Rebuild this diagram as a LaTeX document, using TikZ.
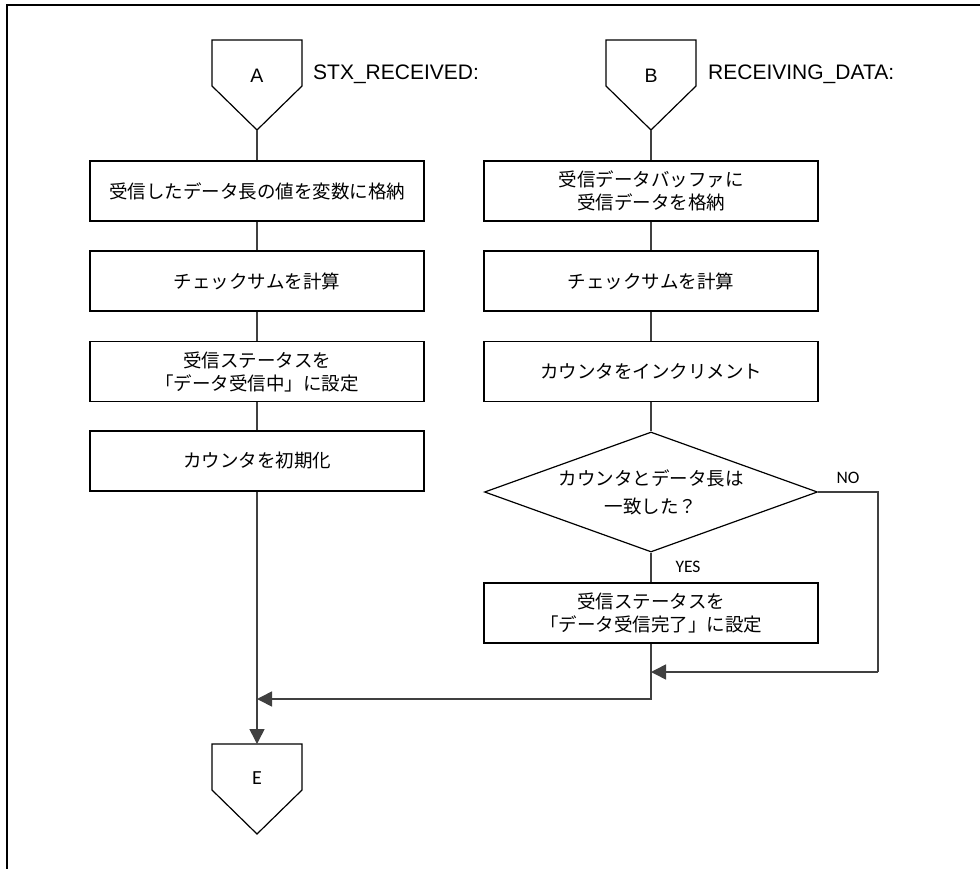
\documentclass[tikz,border=0pt]{standalone}
\usepackage{fontspec}
\setmainfont{Liberation Sans}
\newfontfamily\jpfont{Noto Sans CJK JP}
\newfontfamily\calfont{Carlito}
\usetikzlibrary{arrows.meta,shapes.geometric}
\begin{document}
\begin{tikzpicture}[x=1pt,y=-1pt,
  proc/.style={draw=black, line width=1.2pt, minimum width=334pt, minimum height=60pt,
    inner sep=0pt, align=center, font=\jpfont\fontsize{18.5}{23}\selectfont},
  decide/.style={draw=black, line width=1.2pt, shape=diamond, aspect=2.775,
    minimum width=333pt, minimum height=120pt, inner sep=0pt, align=center,
    font=\jpfont\fontsize{18.5}{28}\selectfont},
  conn/.style={draw=black, line width=1.2pt, line join=miter},
  flow/.style={draw=black!75, line width=1.6pt},
  arr/.style={flow, -{Triangle[length=15pt,width=15pt]}},
  lbl/.style={font=\fontsize{21}{24}\selectfont, anchor=base west, inner sep=0pt},
  clbl/.style={font=\calfont\fontsize{17.5}{20}\selectfont, inner sep=0pt},
  elbl/.style={font=\calfont\fontsize{20}{22}\selectfont, inner sep=0pt},
  ctext/.style={font=\fontsize{19.5}{22}\selectfont, inner sep=0pt}
]
\useasboundingbox (0,0) rectangle (980,869);
\draw[line width=2.5pt] (7,869) -- (7,5) -- (980,5);

% connector A
\draw[conn] (212,40) -- (302,40) -- (302,86) -- (257,130) -- (212,86) -- cycle;
\node[ctext] (A) at (257,76) {A};
\coordinate (Atip) at (257,130);
\node[lbl] (Alab) at (313,80) {STX\_RECEIVED:};

% connector B
\draw[conn] (606,40) -- (696,40) -- (696,86) -- (651,130) -- (606,86) -- cycle;
\node[ctext] (B) at (651,76) {B};
\coordinate (Btip) at (651,130);
\node[lbl] (Blab) at (708,80) {RECEIVING\_DATA:};

% left column
\node[proc] (L1) at (257,191) {受信したデータ長の値を変数に格納};
\node[proc] (L2) at (257,281) {チェックサムを計算};
\node[proc] (L3) at (257,371.5) {受信ステータスを\\「データ受信中」に設定};
\node[proc] (L4) at (257,461) {カウンタを初期化};

% right column
\node[proc] (R1) at (651,191) {受信データバッファに\\受信データを格納};
\node[proc] (R2) at (651,281) {チェックサムを計算};
\node[proc] (R3) at (651,371.5) {カウンタをインクリメント};
\node[decide] (D) at (651,492) {カウンタとデータ長は\\一致した？};
\node[proc] (R4) at (651,613) {受信ステータスを\\「データ受信完了」に設定};

% connector E
\draw[conn] (212,744) -- (302,744) -- (302,790) -- (257,834) -- (212,790) -- cycle;
\node[elbl] (E) at (257,778) {E};
\coordinate (Etop) at (257,744);

% labels
\node[clbl] (NO) at (848,478) {NO};
\node[clbl] (YES) at (688,567) {YES};

% flow lines
\draw[flow] (Atip) -- (L1.north);
\draw[flow] (L1) -- (L2);
\draw[flow] (L2) -- (L3);
\draw[flow] (L3) -- (L4);
\draw[arr] (L4.south) -- (Etop);

\draw[flow] (Btip) -- (R1.north);
\draw[flow] (R1) -- (R2);
\draw[flow] (R2) -- (R3);
\draw[flow] (R3) -- (D.north);
\draw[flow] (D.south) -- (R4.north);

\coordinate (j1) at (257,699);
\draw[arr] (R4.south) |- (j1);

\coordinate (n1) at (878,672);
\coordinate (j2) at (651,672);
\draw[flow] (D.east) -| (n1);
\draw[arr] (n1) -- (j2);
\end{tikzpicture}
\end{document}
